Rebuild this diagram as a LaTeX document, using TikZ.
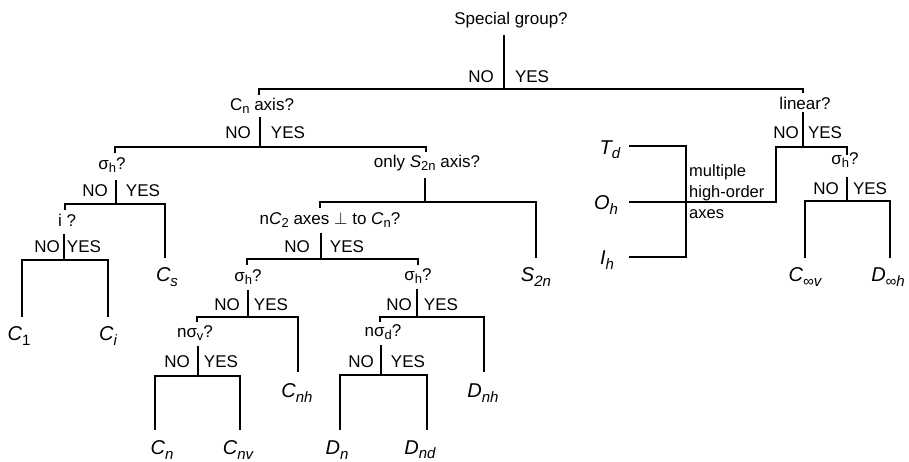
\documentclass[tikz,border=0pt]{standalone}
\usepackage{fontspec}
\setmainfont{Liberation Sans}
% lowered subscripts for question text and for group symbols
\newcommand\qsb[1]{\raisebox{-0.35ex}{\fontsize{13}{13}\selectfont #1}}
\newcommand\lsb[1]{\raisebox{-0.4ex}{\fontsize{15}{15}\selectfont #1}}
\begin{document}
\begin{tikzpicture}[x=1pt,y=-1pt,
  q/.style={font=\fontsize{17}{20}\selectfont, inner sep=0pt},
  yn/.style={font=\fontsize{17}{20}\selectfont, inner sep=0pt},
  leaf/.style={font=\fontsize{20}{23}\selectfont\itshape, inner sep=0pt},
  note/.style={font=\fontsize{16.5}{21}\selectfont, inner sep=0pt, align=left, anchor=west},
  br/.style={line width=2.9pt, line join=miter}]
\useasboundingbox (0,0) rectangle (909,461);

% ---------- questions ----------
\node[q] (root) at (511,20)  {Special group?};
\node[q] (cn)   at (262,106) {C\qsb{n} axis?};
\node[q] (sh1)  at (112,165) {σ\qsb{h}?};
\node[q] (inv)  at (67,220)  {i ?};
\node[q] (s2n)  at (427,163) {only \textit{S}\qsb{2n} axis?};
\node[q] (perp) at (330,220) {n\textit{C}\qsb{2} axes $\perp$ to \textit{C}\qsb{n}?};
\node[q] (sh2)  at (248,277) {σ\qsb{h}?};
\node[q] (sv)   at (195,333) {nσ\qsb{v}?};
\node[q] (sh3)  at (418,276) {σ\qsb{h}?};
\node[q] (sd)   at (383,332) {nσ\qsb{d}?};
\node[q] (lin)  at (805,103) {linear?};
\node[q] (sh4)  at (845,160) {σ\qsb{h}?};
\node[note] (multi) at (689,192) {multiple\\high-order\\axes};

% ---------- answers ----------
\node[yn] (root-no) at (481,77)  {NO};  \node[yn] (root-yes) at (532,77)  {YES};
\node[yn] (cn-no)   at (238,133) {NO};  \node[yn] (cn-yes)   at (288,133) {YES};
\node[yn] (sh1-no)  at (95,191)  {NO};  \node[yn] (sh1-yes)  at (143,191) {YES};
\node[yn] (inv-no)  at (47,247)  {NO};  \node[yn] (inv-yes)  at (84,247)  {YES};
\node[yn] (perp-no) at (297,247) {NO};  \node[yn] (perp-yes) at (347,247) {YES};
\node[yn] (sh2-no)  at (227,305) {NO};  \node[yn] (sh2-yes)  at (271,305) {YES};
\node[yn] (sv-no)   at (177,362) {NO};  \node[yn] (sv-yes)   at (221,362) {YES};
\node[yn] (sh3-no)  at (399,305) {NO};  \node[yn] (sh3-yes)  at (441,305) {YES};
\node[yn] (sd-no)   at (361,362) {NO};  \node[yn] (sd-yes)   at (408,362) {YES};
\node[yn] (lin-no)  at (786,133) {NO};  \node[yn] (lin-yes)  at (825,133) {YES};
\node[yn] (sh4-no)  at (826,189) {NO};  \node[yn] (sh4-yes)  at (870,189) {YES};

% ---------- point groups ----------
\node[leaf] (c1)   at (19,336)  {C\lsb{\upshape 1}};
\node[leaf] (ci)   at (108,336) {C\lsb{i}};
\node[leaf] (cs)   at (167,277) {C\lsb{s}};
\node[leaf] (s2)   at (536,277) {S\lsb{2n}};
\node[leaf] (cnh)  at (297,393) {C\lsb{nh}};
\node[leaf] (dnh)  at (483,393) {D\lsb{nh}};
\node[leaf] (cn0)  at (162,450) {C\lsb{n}};
\node[leaf] (cnv)  at (238,450) {C\lsb{nv}};
\node[leaf] (dn)   at (337,450) {D\lsb{n}};
\node[leaf] (dnd)  at (420,450) {D\lsb{nd}};
\node[leaf] (td)   at (610,150) {T\lsb{d}};
\node[leaf] (oh)   at (606,205) {O\lsb{h}};
\node[leaf] (ih)   at (607,260) {I\lsb{h}};
\node[leaf] (cinf) at (805,277) {C\lsb{∞v}};
\node[leaf] (dinf) at (888,277) {D\lsb{∞h}};

% ---------- branch points ----------
\coordinate (root-t) at (504,35);  \coordinate (root-b) at (504,89);
\coordinate (cn-in)  at (259,95);  \coordinate (lin-in) at (803,93);
\coordinate (cn-t)   at (260,117); \coordinate (cn-b)   at (260,147);
\coordinate (sh1-in) at (115,153); \coordinate (s2n-in) at (426,152);
\coordinate (sh1-t)  at (116,180); \coordinate (sh1-b)  at (116,204);
\coordinate (inv-in) at (65,210);  \coordinate (cs-in)  at (165,258);
\coordinate (inv-t)  at (64,234);  \coordinate (inv-b)  at (64,260);
\coordinate (c1-in)  at (22,317);  \coordinate (ci-in)  at (108,317);
\coordinate (s2n-t)  at (425,178); \coordinate (s2n-b)  at (425,202);
\coordinate (perp-in) at (320,208); \coordinate (s2-in) at (536,258);
\coordinate (perp-t) at (321,233); \coordinate (perp-b) at (321,259);
\coordinate (sh2-in) at (247,265); \coordinate (sh3-in) at (418,265);
\coordinate (sh2-t)  at (248,290); \coordinate (sh2-b)  at (248,317);
\coordinate (sv-in)  at (197,322); \coordinate (cnh-in) at (298,372);
\coordinate (sv-t)   at (198,346); \coordinate (sv-b)   at (198,376);
\coordinate (cn0-in) at (155,430); \coordinate (cnv-in) at (240,430);
\coordinate (sh3-t)  at (417,289); \coordinate (sh3-b)  at (417,317);
\coordinate (sd-in)  at (380,322); \coordinate (dnh-in) at (484,372);
\coordinate (sd-t)   at (381,345); \coordinate (sd-b)   at (381,375);
\coordinate (dn-in)  at (340,430); \coordinate (dnd-in) at (427,430);
\coordinate (lin-t)  at (803,112); \coordinate (lin-b)  at (803,147);
\coordinate (lin-l)  at (776,202); \coordinate (sh4-in) at (847,155);
\coordinate (oh-in)  at (629,202);
\coordinate (td-in)  at (629,146); \coordinate (ih-in)  at (629,257);
\coordinate (bk-t)   at (686,146); \coordinate (bk-b)   at (686,257);
\coordinate (sh4-t)  at (847,177); \coordinate (sh4-b)  at (847,201);
\coordinate (cinf-in) at (805,258); \coordinate (dinf-in) at (890,258);

% ---------- connectors ----------
\begin{scope}[br]
\draw (root-t) -- (root-b);  \draw (cn-in) |- (root-b) -| (lin-in);
\draw (cn-t) -- (cn-b);      \draw (sh1-in) |- (cn-b) -| (s2n-in);
\draw (sh1-t) -- (sh1-b);    \draw (inv-in) |- (sh1-b) -| (cs-in);
\draw (inv-t) -- (inv-b);    \draw (c1-in) |- (inv-b) -| (ci-in);
\draw (s2n-t) -- (s2n-b);    \draw (perp-in) |- (s2n-b) -| (s2-in);
\draw (perp-t) -- (perp-b);  \draw (sh2-in) |- (perp-b) -| (sh3-in);
\draw (sh2-t) -- (sh2-b);    \draw (sv-in) |- (sh2-b) -| (cnh-in);
\draw (sv-t) -- (sv-b);      \draw (cn0-in) |- (sv-b) -| (cnv-in);
\draw (sh3-t) -- (sh3-b);    \draw (sd-in) |- (sh3-b) -| (dnh-in);
\draw (sd-t) -- (sd-b);      \draw (dn-in) |- (sd-b) -| (dnd-in);
\draw (lin-t) -- (lin-b);    \draw (oh-in) -- (lin-l) |- (lin-b) -| (sh4-in);
\draw (td-in) -- (bk-t) -- (bk-b) -- (ih-in);
\draw (sh4-t) -- (sh4-b);    \draw (cinf-in) |- (sh4-b) -| (dinf-in);
\end{scope}
\end{tikzpicture}
\end{document}
